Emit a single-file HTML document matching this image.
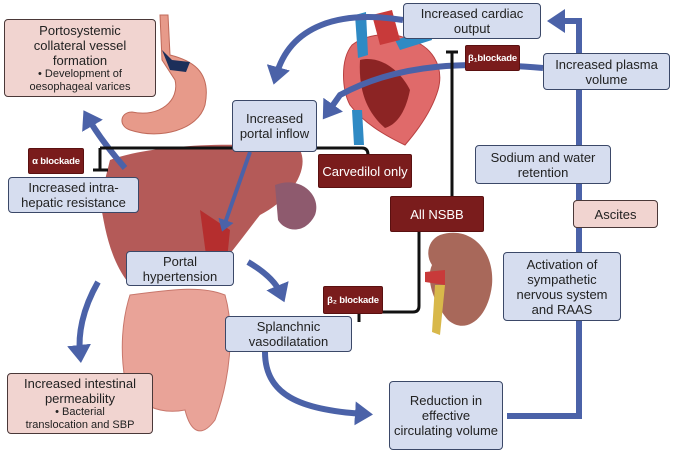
<!DOCTYPE html>
<html><head><meta charset="utf-8"><style>
body{margin:0;background:#fff;width:674px;height:455px;overflow:hidden;position:relative;font-family:"Liberation Sans",sans-serif}
.b{position:absolute;box-sizing:border-box;background:#d6ddef;border:1.5px solid #3b4868;border-radius:4px;color:#222;font-size:13px;line-height:15px;text-align:center;display:flex;flex-direction:column;justify-content:center;align-items:center}
.p{background:#f1d4d0;border-color:#4a3838}
.r{position:absolute;box-sizing:border-box;background:#7a1c1c;border:1px solid #5a1010;color:#fff;font-size:13px;display:flex;justify-content:center;align-items:center;border-radius:2px;white-space:nowrap}
.s{font-size:9.5px;font-weight:bold;letter-spacing:-0.2px}
.sm{font-size:11px;line-height:13px}
svg{position:absolute;left:0;top:0}
</style></head><body>
<svg width="674" height="455">
<defs><marker id="a" markerWidth="4" markerHeight="4" refX="1.5" refY="2" orient="auto" markerUnits="strokeWidth"><path d="M0,0L3,2L0,4Z" fill="#4b62a8"/></marker></defs>
<!-- organs -->
<path d="M160,15 L168,15 L170,55 C190,60 212,70 205,105 C198,130 160,140 130,130 C118,126 120,112 132,112 C160,118 180,100 175,80 L162,60Z" fill="#e79a8a" stroke="#c06a5a"/>
<path d="M162,50 L172,60 L190,62 L186,72 L170,70Z" fill="#1c2f5a"/>
<path d="M110,160 C150,145 240,140 300,150 C310,170 290,200 260,215 C240,240 220,270 200,285 L130,285 C110,260 105,230 100,200Z" fill="#b45a58"/>
<path d="M275,185 C300,175 322,195 315,215 C305,235 285,232 278,220Z" fill="#8e5a6e"/>
<path d="M200,210 L230,230 L225,280 L210,285Z" fill="#b52e2e"/>
<path d="M130,295 C170,290 200,285 225,295 C235,330 230,380 215,420 C200,440 190,430 185,410 C160,415 135,405 125,380 C120,350 122,320 130,295Z" fill="#e9a398" stroke="#c8776c"/>
<path d="M352,45 C340,60 342,90 350,105 C365,125 390,138 405,145 C418,130 432,110 438,90 C445,65 430,45 410,40 C390,30 365,35 352,45Z" fill="#e06a6a" stroke="#b84040"/>
<path d="M360,60 C380,55 400,70 410,90 C405,115 395,125 385,128 C370,115 358,95 360,60Z" fill="#8c2424"/>
<path d="M355,15 L366,12 L368,55 L358,58Z M395,40 L430,30 L432,40 L400,50Z M352,110 L362,110 L364,145 L354,145Z" fill="#2f8ac4"/>
<path d="M372,15 L392,10 L400,40 L380,45Z" fill="#c83a3a"/>
<path d="M440,235 C470,225 495,250 492,285 C488,320 465,335 448,320 C435,305 425,280 432,265 C425,255 428,240 440,235Z" fill="#a8685a"/>
<path d="M425,272 L445,270 L445,285 L425,282Z" fill="#c83a3a"/>
<path d="M435,285 L445,285 L440,335 L432,332Z" fill="#d8b84a"/>
<!-- blue arrows -->
<g fill="none" stroke="#4b62a8" stroke-width="6">
<path d="M579,321 V416 H507"/>
<path d="M579,252 V90 M579,53 V21 H556" marker-end="url(#a)"/>
<path d="M543,68 C470,62 400,62 340,95 L328,112" marker-end="url(#a)"/>
<path d="M403,20 C340,10 290,25 276,76" marker-end="url(#a)"/>
<path d="M250,152 L224,226" stroke-width="4" marker-end="url(#a)"/>
<path d="M125,168 C105,145 95,130 88,118" marker-end="url(#a)"/>
<path d="M98,282 C82,310 78,335 80,354" marker-end="url(#a)"/>
<path d="M248,262 C265,272 276,282 281,294" marker-end="url(#a)"/>
<path d="M265,352 C265,395 300,410 364,414" marker-end="url(#a)"/>
</g>
<!-- black inhibitors -->
<g fill="none" stroke="#111" stroke-width="3">
<path d="M100,148 H362 Q368,148 368,155"/>
<path d="M100,148 V170 M93,170 H108"/>
<path d="M452,196 V52 M446,52 H458"/>
<path d="M419,232 V306 Q419,312 413,312 H359 M359,302 V322"/>
</g>
</svg>
<div class="b p" style="left:4px;top:19px;width:152px;height:78px">Portosystemic<br>collateral vessel<br>formation<div class="sm">• Development of<br>oesophageal varices</div></div>
<div class="b" style="left:403px;top:3px;width:138px;height:36px">Increased cardiac<br>output</div>
<div class="b" style="left:543px;top:53px;width:127px;height:37px">Increased plasma<br>volume</div>
<div class="b" style="left:232px;top:100px;width:85px;height:52px">Increased<br>portal inflow</div>
<div class="b" style="left:475px;top:145px;width:136px;height:39px">Sodium and water<br>retention</div>
<div class="b p" style="left:573px;top:200px;width:85px;height:28px">Ascites</div>
<div class="b" style="left:8px;top:177px;width:131px;height:36px">Increased intra-<br>hepatic resistance</div>
<div class="b" style="left:126px;top:251px;width:108px;height:35px">Portal<br>hypertension</div>
<div class="b" style="left:503px;top:252px;width:118px;height:69px">Activation of<br>sympathetic<br>nervous system<br>and RAAS</div>
<div class="b" style="left:225px;top:316px;width:127px;height:36px">Splanchnic<br>vasodilatation</div>
<div class="b p" style="left:7px;top:373px;width:146px;height:61px">Increased intestinal<br>permeability<div class="sm">• Bacterial<br>translocation and SBP</div></div>
<div class="b" style="left:389px;top:381px;width:114px;height:69px">Reduction in<br>effective<br>circulating volume</div>
<div class="r s" style="left:28px;top:148px;width:56px;height:26px">α blockade</div>
<div class="r" style="left:318px;top:154px;width:94px;height:34px">Carvedilol only</div>
<div class="r s" style="left:465px;top:45px;width:55px;height:26px">β₁blockade</div>
<div class="r" style="left:390px;top:196px;width:94px;height:36px">All NSBB</div>
<div class="r s" style="left:323px;top:286px;width:60px;height:28px">β₂ blockade</div>
</body></html>
